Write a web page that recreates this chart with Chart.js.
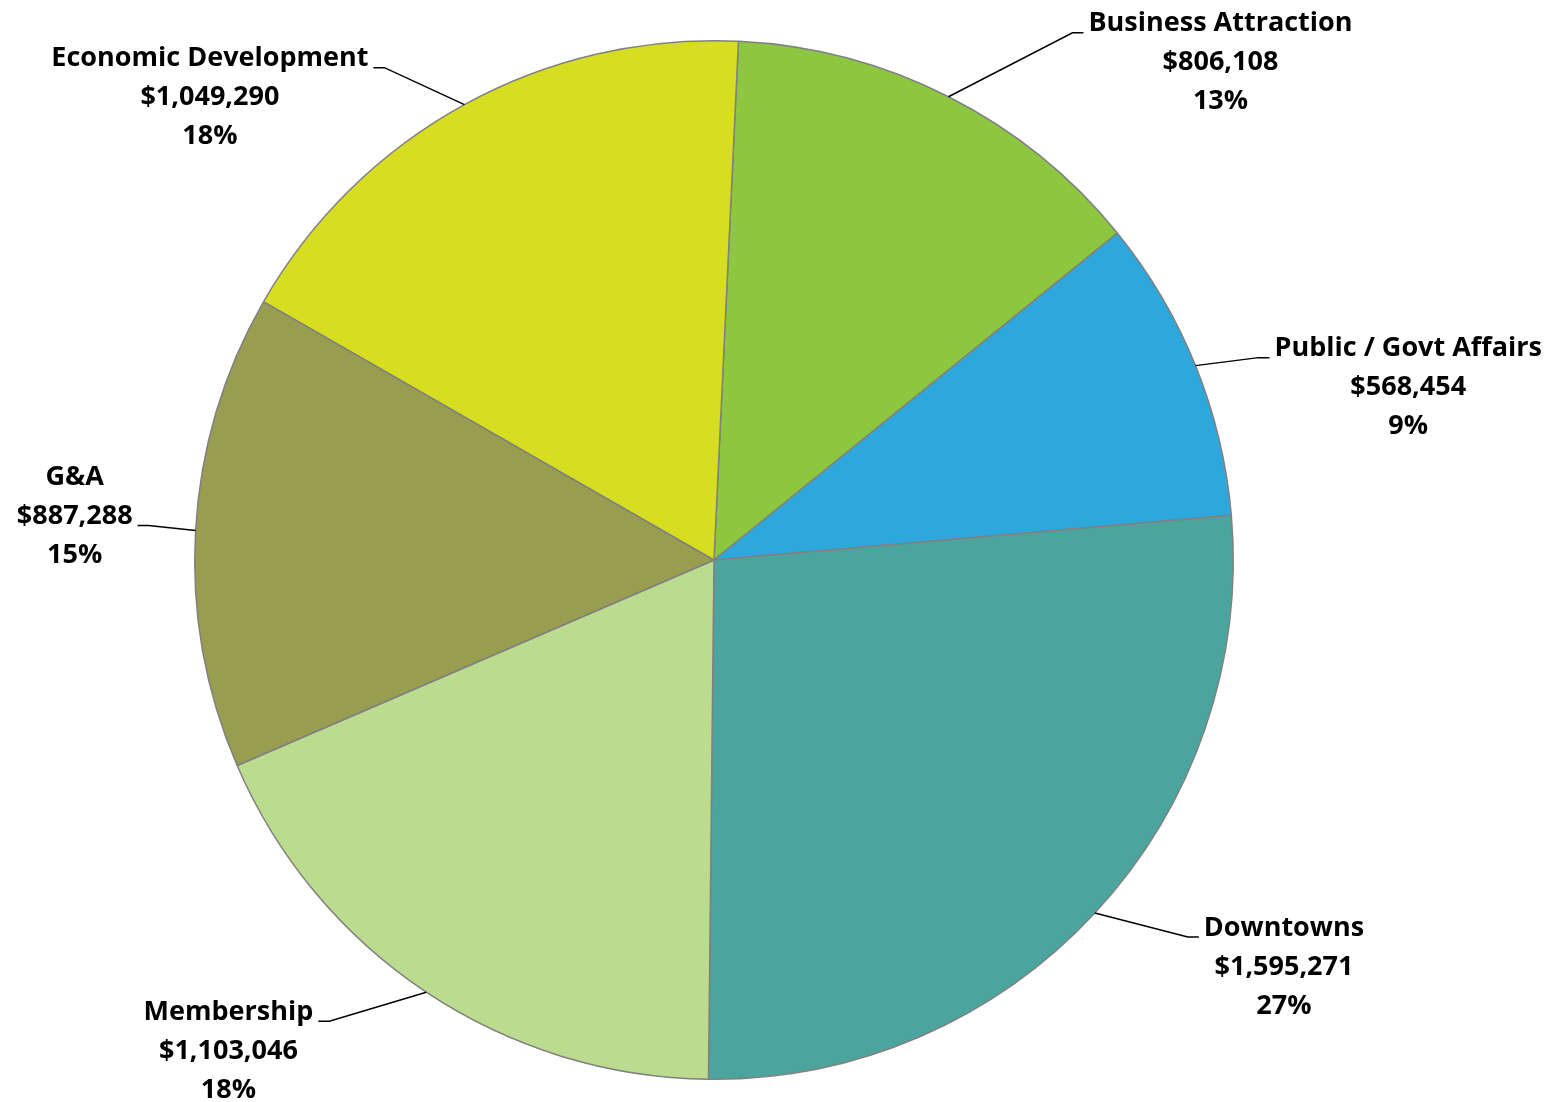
<!DOCTYPE html>
<html>
<head>
<meta charset="utf-8">
<script src="https://cdn.jsdelivr.net/npm/chart.js@4"></script>
<style>
  html, body { margin: 0; padding: 0; background: #fff; }
  #wrap { width: 1565px; height: 1102px; position: relative; }
</style>
</head>
<body>
<div id="wrap"><canvas id="pie"></canvas></div>
<script>
// Budget by program
const categories = ['Business Attraction', 'Public / Govt Affairs', 'Downtowns', 'Membership', 'G&A', 'Economic Development'];
const amounts = [806108, 568454, 1595271, 1103046, 887288, 1049290];
const amountLabels = ['$806,108', '$568,454', '$1,595,271', '$1,103,046', '$887,288', '$1,049,290'];
const percentLabels = ['13%', '9%', '27%', '18%', '15%', '18%'];
const sliceColors = ['#8DC63F', '#2EA8DC', '#4BA59E', '#BBDB8E', '#999D4F', '#D7DE22'];

// leader line elbows, relative to the point on the rim (style only)
const leaderElbows = [[124, -64], [63, -8], [93, 24], [-97, 29], [-47, -5], [-80, -37]];
const leaderSide = [1, 1, 1, -1, -1, -1];   // text to the right (1) or left (-1)
const leaderLine = [0, 0, 0, 0, 1, 0];      // which text line the leader points at

const LABEL_FONT = 'bold 27px "Open Sans"';
const LINE_H = 39;

const leaderLabels = {
  id: 'leaderLabels',
  afterDraw(chart) {
    const ctx = chart.ctx;
    const arcs = chart.getDatasetMeta(0).data;
    ctx.save();
    ctx.font = LABEL_FONT;
    ctx.textAlign = 'center';
    ctx.textBaseline = 'middle';
    arcs.forEach((arc, i) => {
      const p = arc.getProps(['x', 'y', 'startAngle', 'endAngle', 'outerRadius'], true);
      const mid = (p.startAngle + p.endAngle) / 2;
      const ax = p.x + Math.cos(mid) * p.outerRadius;
      const ay = p.y + Math.sin(mid) * p.outerRadius;
      const ex = ax + leaderElbows[i][0];
      const ey = ay + leaderElbows[i][1];
      const side = leaderSide[i];
      const endX = ex + side * 11;

      ctx.strokeStyle = '#000';
      ctx.lineWidth = 1.5;
      ctx.beginPath();
      ctx.moveTo(ax, ay);
      ctx.lineTo(ex, ey);
      ctx.lineTo(endX, ey);
      ctx.stroke();

      const lines = [categories[i], amountLabels[i], percentLabels[i]];
      const w = Math.max(...lines.map(t => ctx.measureText(t).width));
      const cx = endX + side * (5 + w / 2);
      const top = ey - 9 - leaderLine[i] * LINE_H;
      ctx.fillStyle = '#000';
      lines.forEach((t, k) => ctx.fillText(t, cx, top + k * LINE_H));
    });
    ctx.restore();
  }
};

new Chart(document.getElementById('pie'), {
  type: 'pie',
  data: {
    labels: categories,
    datasets: [{
      data: amounts,
      backgroundColor: sliceColors,
      borderColor: '#808080',
      borderWidth: 1.5
    }]
  },
  options: {
    responsive: true,
    maintainAspectRatio: false,
    animation: false,
    rotation: 2.7,
    layout: { padding: { top: 40, bottom: 22, left: 194, right: 331 } },
    plugins: { legend: { display: false }, tooltip: { enabled: false } }
  },
  plugins: [leaderLabels]
});
</script>
</body>
</html>
